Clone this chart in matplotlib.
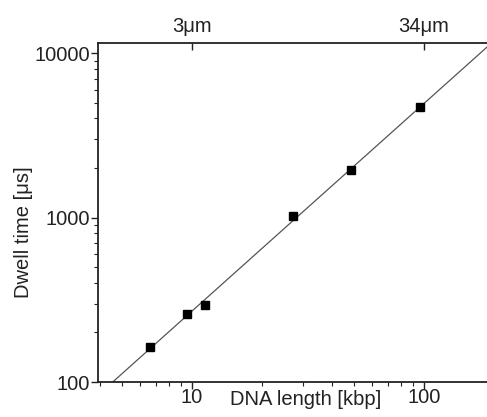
import matplotlib
matplotlib.use("Agg")
import matplotlib.pyplot as plt
from matplotlib.ticker import LogLocator, NullFormatter, FixedLocator, FixedFormatter

plt.rcParams['font.family'] = ['Liberation Sans', 'DejaVu Sans']

# data
dna_length_kbp = [6.6, 9.5, 11.4, 27.2, 48.4, 96.0]
dwell_time_us = [163, 260, 295, 1015, 1936, 4680]
fit_x = [4.56, 187.0]
fit_y = [100.0, 10870.0]
x_ticks = [10, 100]
x_ticklabels = ["10", "100"]
y_ticks = [100, 1000, 10000]
y_ticklabels = ["100", "1000", "10000"]
top_ticks = [10, 100]
top_ticklabels = ["3\u03bcm", "34\u03bcm"]

FS = 14.5

fig = plt.figure(figsize=(4.87, 4.17), dpi=100)
ax = fig.add_axes([98/487, (417-382)/417, 1 - 98/487, (382-43)/417])

ax.plot(fit_x, fit_y, color="#555555", lw=0.9, zorder=2)
ax.plot(dna_length_kbp, dwell_time_us, linestyle="none", marker="s",
        ms=6, color="black", zorder=3)

ax.set_xscale("log")
ax.set_yscale("log")
ax.set_xlim(3.94, 187)
ax.set_ylim(100, 11510)

ax.xaxis.set_major_locator(FixedLocator(x_ticks))
ax.xaxis.set_major_formatter(FixedFormatter(x_ticklabels))
ax.xaxis.set_minor_locator(LogLocator(base=10, subs=range(2, 10)))
ax.xaxis.set_minor_formatter(NullFormatter())
ax.yaxis.set_major_locator(FixedLocator(y_ticks))
ax.yaxis.set_major_formatter(FixedFormatter(y_ticklabels))
ax.yaxis.set_minor_locator(LogLocator(base=10, subs=range(2, 10)))
ax.yaxis.set_minor_formatter(NullFormatter())

for s in ["left", "bottom", "top"]:
    ax.spines[s].set_linewidth(1.3)
    ax.spines[s].set_color("#222222")
ax.spines["right"].set_visible(False)

ax.tick_params(which="major", direction="out", length=5, width=1.0,
               labelsize=FS, colors="#222222", pad=1)
ax.tick_params(which="minor", direction="out", length=3, width=0.8,
               colors="#222222")
ax.tick_params(axis="x", which="major", pad=-1)

ax.set_xlabel("DNA length [kbp]", fontsize=FS, color="#222222")
ax.xaxis.set_label_coords(0.535, -0.024)
ax.set_ylabel("Dwell time [\u03bcs]", fontsize=FS, color="#222222")
ax.yaxis.set_label_coords(-0.167, 0.442)

top = ax.twiny()
top.set_xscale("log")
top.set_xlim(ax.get_xlim())
top.xaxis.set_major_locator(FixedLocator(top_ticks))
top.xaxis.set_major_formatter(FixedFormatter(top_ticklabels))
top.xaxis.set_minor_locator(FixedLocator([]))
top.tick_params(axis="x", which="major", direction="in", length=5, width=1.0,
                labelsize=FS, colors="#222222", pad=5)
for s in ["left", "bottom", "right", "top"]:
    top.spines[s].set_visible(False)

fig.savefig("out.png", dpi=100)
